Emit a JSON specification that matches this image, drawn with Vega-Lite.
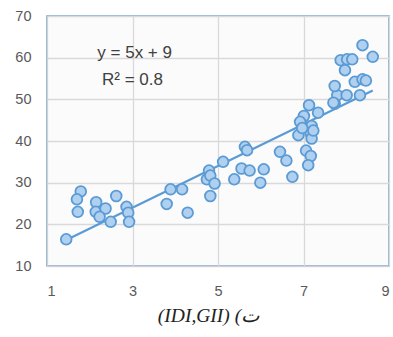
{
  "$schema": "https://vega.github.io/schema/vega-lite/v6.json",
  "autosize": {"type": "none"},
  "width": 342,
  "height": 250,
  "padding": {"left": 47, "top": 16, "right": 4, "bottom": 71},
  "background": "white",
  "config": {
    "view": {"stroke": "#6f9fd0", "strokeWidth": 1.5, "fill": "#fbfbfb"},
    "axis": {
      "labelFont": "Liberation Sans",
      "labelFontSize": 14.5,
      "labelColor": "#595959",
      "gridColor": "#d9d9d9",
      "gridWidth": 1.3,
      "domainColor": "#d0d0d0",
      "ticks": false
    }
  },
  "datasets": {
    "pts": [
      {"x": 1.45, "y": 16.4}, {"x": 1.79, "y": 27.9}, {"x": 1.70, "y": 26.0}, {"x": 1.72, "y": 23.0},
      {"x": 2.15, "y": 25.3}, {"x": 2.14, "y": 23.0}, {"x": 2.37, "y": 23.8}, {"x": 2.23, "y": 21.8},
      {"x": 2.49, "y": 20.6}, {"x": 2.62, "y": 26.8}, {"x": 2.86, "y": 24.2}, {"x": 2.90, "y": 22.8},
      {"x": 2.92, "y": 20.6}, {"x": 3.80, "y": 24.9}, {"x": 3.89, "y": 28.4}, {"x": 4.16, "y": 28.4},
      {"x": 4.29, "y": 22.8}, {"x": 4.79, "y": 32.9}, {"x": 4.74, "y": 30.8}, {"x": 4.82, "y": 31.7},
      {"x": 4.92, "y": 29.8}, {"x": 4.82, "y": 26.8}, {"x": 5.12, "y": 35.0}, {"x": 5.38, "y": 30.8},
      {"x": 5.55, "y": 33.4}, {"x": 5.63, "y": 38.6}, {"x": 5.68, "y": 37.8}, {"x": 5.74, "y": 32.9},
      {"x": 6.07, "y": 33.2}, {"x": 5.99, "y": 30.0}, {"x": 6.45, "y": 37.4}, {"x": 6.60, "y": 35.3},
      {"x": 6.74, "y": 31.4}, {"x": 6.88, "y": 41.4}, {"x": 7.17, "y": 41.8}, {"x": 7.19, "y": 40.6},
      {"x": 7.06, "y": 37.7}, {"x": 7.17, "y": 36.4}, {"x": 7.11, "y": 34.2}, {"x": 7.13, "y": 48.6},
      {"x": 7.34, "y": 46.8}, {"x": 7.01, "y": 46.0}, {"x": 6.92, "y": 44.6}, {"x": 7.19, "y": 43.6},
      {"x": 7.23, "y": 42.5}, {"x": 6.97, "y": 43.1}, {"x": 7.73, "y": 49.0}, {"x": 7.79, "y": 51.0},
      {"x": 8.38, "y": 63.0}, {"x": 8.62, "y": 60.2}, {"x": 7.87, "y": 59.4}, {"x": 8.02, "y": 59.6},
      {"x": 8.14, "y": 59.6}, {"x": 7.97, "y": 57.0}, {"x": 7.73, "y": 53.2}, {"x": 8.20, "y": 54.2},
      {"x": 8.38, "y": 54.8}, {"x": 8.46, "y": 54.5}, {"x": 8.01, "y": 51.0}, {"x": 8.32, "y": 51.0},
      {"x": 7.70, "y": 49.2}
    ],
    "trend": [
      {"x": 1.45, "y": 16.25},
      {"x": 8.62, "y": 52.1}
    ],
    "notes": [
      {"x": 3.05, "y": 61.1, "label": "y = 5x + 9"},
      {"x": 3.0, "y": 54.6, "label": "R² = 0.8"}
    ]
  },
  "layer": [
    {
      "data": {"name": "trend"},
      "mark": {"type": "line", "color": "#5b9bd5", "strokeWidth": 2.2},
      "encoding": {
        "x": {
          "field": "x", "type": "quantitative",
          "scale": {"domain": [1, 9], "nice": false, "zero": false},
          "axis": {
            "values": [1, 3, 5, 7, 9],
            "labelPadding": 18,
            "title": "(IDI,GII) (ت",
            "titleFont": "Liberation Serif",
            "titleFontStyle": "italic",
            "titleFontWeight": "normal",
            "titleFontSize": 19.5,
            "titleColor": "#222222",
            "titlePadding": 9,
            "titleX": 161
          }
        },
        "y": {
          "field": "y", "type": "quantitative",
          "scale": {"domain": [10, 70], "nice": false, "zero": false},
          "axis": {"values": [10, 20, 30, 40, 50, 60, 70], "labelPadding": 16, "title": null}
        }
      }
    },
    {
      "data": {"name": "pts"},
      "mark": {"type": "point", "filled": true, "fill": "#b0d0f0", "stroke": "#5b9bd5", "strokeWidth": 1.8, "opacity": 1, "size": 115},
      "encoding": {
        "x": {"field": "x", "type": "quantitative"},
        "y": {"field": "y", "type": "quantitative"}
      }
    },
    {
      "data": {"name": "notes"},
      "mark": {"type": "text", "font": "Liberation Sans", "fontSize": 17, "color": "#404040", "align": "center", "baseline": "middle"},
      "encoding": {
        "x": {"field": "x", "type": "quantitative"},
        "y": {"field": "y", "type": "quantitative"},
        "text": {"field": "label"}
      }
    }
  ]
}
